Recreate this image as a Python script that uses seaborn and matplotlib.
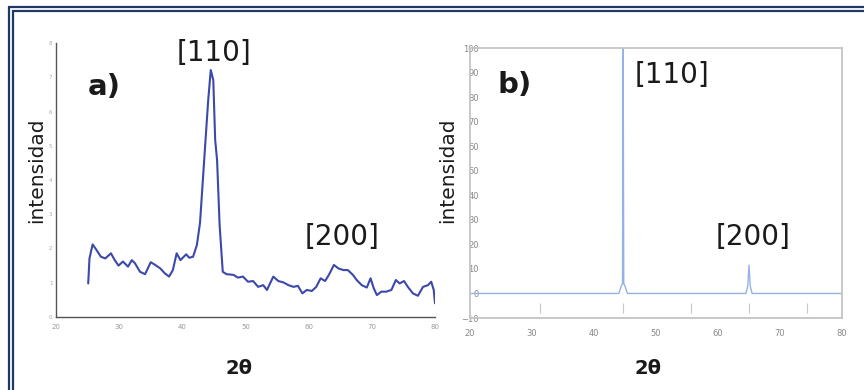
import matplotlib
matplotlib.use("Agg")
import matplotlib.pyplot as plt
from matplotlib.lines import Line2D
from matplotlib.ticker import MultipleLocator
import pandas as pd
import seaborn as sns

# --- Pattern a): measured diffractogram -------------------------------------
two_theta_a = [25.1, 25.3, 25.8, 26.4, 27.1, 27.8, 28.7, 29.3, 29.9, 30.6,
               31.4, 32.0, 32.5, 33.3, 34.1, 35.0, 35.7, 36.5, 37.2, 37.9,
               38.5, 39.1, 39.7, 40.6, 41.1, 41.7, 42.3, 42.8, 43.6, 44.1,
               44.5, 44.9, 45.2, 45.5, 45.9, 46.4, 47.0, 48.1, 48.8, 49.6,
               50.4, 51.2, 52.0, 52.8, 53.4, 54.4, 55.2, 56.0, 56.8, 57.6,
               58.3, 59.0, 59.7, 60.5, 61.2, 61.9, 62.6, 63.2, 64.0, 64.7,
               65.5, 66.2, 67.0, 67.6, 68.4, 69.2, 69.8, 70.3, 70.8, 71.5,
               72.3, 73.1, 73.8, 74.4, 75.1, 75.7, 76.5, 77.3, 78.1, 78.9,
               79.4, 79.8, 80.0]
intensity_a = [0.98, 1.71, 2.12, 1.96, 1.76, 1.71, 1.86, 1.66, 1.50, 1.62,
               1.47, 1.66, 1.57, 1.32, 1.25, 1.60, 1.52, 1.42, 1.28, 1.18,
               1.37, 1.86, 1.66, 1.83, 1.73, 1.76, 2.10, 2.75, 4.97, 6.34,
               7.21, 6.92, 5.17, 4.58, 2.69, 1.32, 1.25, 1.23, 1.15, 1.18,
               1.03, 1.05, 0.88, 0.93, 0.79, 1.18, 1.05, 1.01, 0.93, 0.88,
               0.91, 0.69, 0.79, 0.76, 0.88, 1.13, 1.05, 1.23, 1.52, 1.42,
               1.37, 1.37, 1.23, 1.08, 0.93, 0.86, 1.13, 0.84, 0.64, 0.74,
               0.74, 0.79, 1.08, 0.98, 1.05, 0.88, 0.69, 0.62, 0.88, 0.93,
               1.03, 0.79, 0.40]

# --- Pattern b): reference pattern -----------------------------------------
two_theta_b = [20.0, 44.0, 44.4, 44.6, 44.7, 44.8, 45.0, 45.4,
               64.5, 64.8, 65.0, 65.2, 65.5, 80.0]
intensity_b = [0.0, 0.0, 3.0, 4.0, 100.0, 4.0, 3.0, 0.0,
               0.0, 3.0, 11.5, 3.0, 0.0, 0.0]
stick_positions = [31.3, 44.7, 55.7, 65.0, 74.3]
stick_bottom, stick_top = -7.8, -4.0

x_ticks = [20, 30, 40, 50, 60, 70, 80]
a_y_ticks = [0, 1, 2, 3, 4, 5, 6, 7, 8]
b_y_ticks = [-10, 0, 10, 20, 30, 40, 50, 60, 70, 80, 90, 100]

sns.set_style("white")
plt.rcParams["font.family"] = ["DejaVu Sans"]

W, H = 864, 390
fig = plt.figure(figsize=(W / 100, H / 100), dpi=100)


def fx(px):
    return px / W


def fy(py):
    return 1 - py / H


# ---------------- panel a ----------------
ax_a = fig.add_axes([fx(56), fy(317), (435 - 56) / W, (317 - 43) / H])
df_a = pd.DataFrame({"2theta": two_theta_a, "I": intensity_a})
sns.lineplot(data=df_a, x="2theta", y="I", ax=ax_a, color="#3b49ab",
             linewidth=1.5, estimator=None, sort=False)
ax_a.set_xlim(20, 80)
ax_a.set_ylim(0, 8)
for s in ("top", "right"):
    ax_a.spines[s].set_visible(False)
for s in ("left", "bottom"):
    ax_a.spines[s].set_color("#555555")
    ax_a.spines[s].set_linewidth(1.0)
ax_a.set_xticks(x_ticks)
ax_a.xaxis.set_minor_locator(MultipleLocator(5))
ax_a.set_yticks(a_y_ticks)
ax_a.tick_params(axis="x", which="both", direction="inout", length=4,
                 width=0.8, color="#555555", labelsize=5, labelcolor="#999999",
                 pad=3)
ax_a.tick_params(axis="y", which="both", direction="inout", length=3,
                 width=0.8, color="#555555", labelsize=4, labelcolor="#aaaaaa",
                 pad=1)
ax_a.set_xlabel("")
ax_a.set_ylabel("")

# ---------------- panel b ----------------
ax_b = fig.add_axes([fx(470), fy(318), (842 - 470) / W, (318 - 48) / H])
df_b = pd.DataFrame({"2theta": two_theta_b, "I": intensity_b})
sns.lineplot(data=df_b, x="2theta", y="I", ax=ax_b, color="#93b3e6",
             linewidth=1.0, estimator=None, sort=False)
ax_b.vlines(stick_positions, stick_bottom, stick_top, color="#c8c8c8",
            linewidth=0.8)
ax_b.set_xlim(20, 80)
ax_b.set_ylim(-10, 100)
for s in ax_b.spines.values():
    s.set_visible(True)
    s.set_color("#c4c4c4")
    s.set_linewidth(1.3)
ax_b.set_xticks(x_ticks)
ax_b.xaxis.set_minor_locator(MultipleLocator(5))
ax_b.set_yticks(b_y_ticks)
ax_b.tick_params(axis="x", which="both", direction="inout", length=4,
                 width=0.8, color="#888888", labelsize=6, labelcolor="#888888",
                 pad=6)
ax_b.tick_params(axis="y", which="both", direction="inout", length=3,
                 width=0.8, color="#888888", labelsize=6, labelcolor="#888888",
                 pad=-8)
ax_b.set_xlabel("")
ax_b.set_ylabel("")

# ---------------- annotations ----------------
txt = dict(ha="center", va="center", color="#1a1a1a")
fig.text(fx(104), fy(87), "a)", fontsize=21, fontweight="bold", **txt)
fig.text(fx(515), fy(85), "b)", fontsize=21, fontweight="bold", **txt)
fig.text(fx(214), fy(53), "[110]", fontsize=20, **txt)
fig.text(fx(342), fy(237), "[200]", fontsize=20, **txt)
fig.text(fx(672), fy(75), "[110]", fontsize=20, **txt)
fig.text(fx(753), fy(237), "[200]", fontsize=20, **txt)
fig.text(fx(37), fy(170), "intensidad", fontsize=14.5, rotation=90, **txt)
fig.text(fx(448), fy(170), "intensidad", fontsize=14.5, rotation=90, **txt)
fig.text(fx(239), fy(369), "2θ", fontsize=14, fontweight="bold", **txt)
fig.text(fx(648), fy(369), "2θ", fontsize=14, fontweight="bold", **txt)

# ---------------- double frame ----------------
navy = "#1f3864"
for off in (7, 11):
    fig.add_artist(Line2D([fx(off + 2), 1.0], [fy(off), fy(off)],
                          transform=fig.transFigure, color=navy, linewidth=1.6))
for off in (9, 13):
    fig.add_artist(Line2D([fx(off), fx(off)], [fy(off - 2), 0.0],
                          transform=fig.transFigure, color=navy, linewidth=1.6))

fig.savefig("out.png", dpi=100)
